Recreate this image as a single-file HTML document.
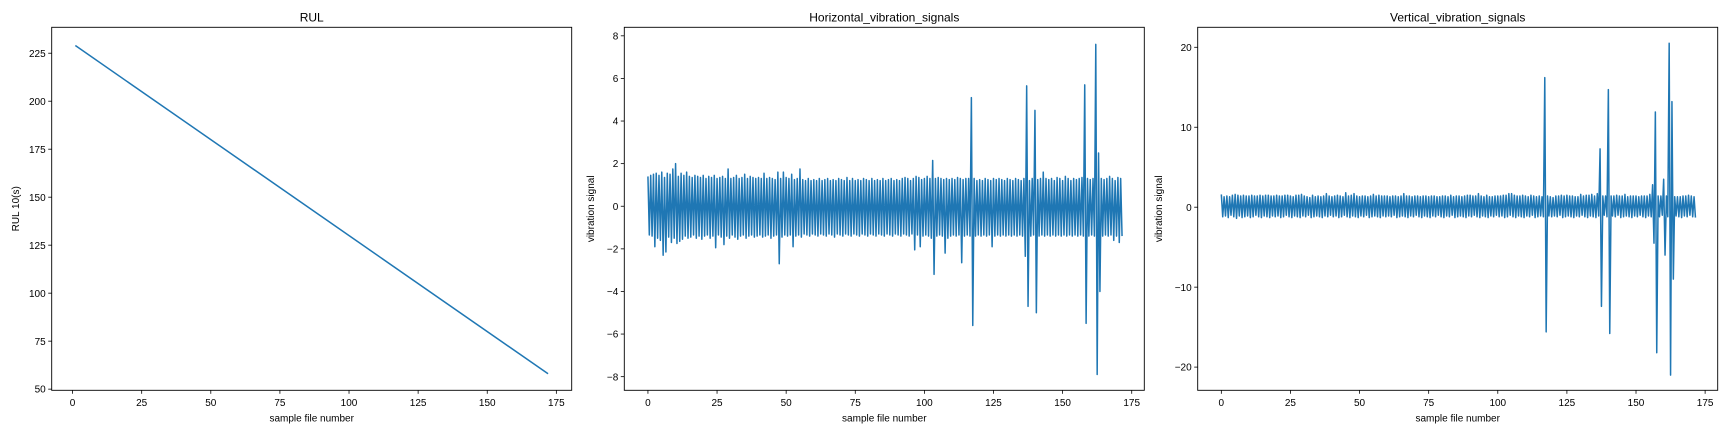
<!DOCTYPE html>
<html><head><meta charset="utf-8"><style>
html,body{margin:0;padding:0;background:#fff;width:1728px;height:432px;overflow:hidden}
svg{display:block;font-family:"Liberation Sans","DejaVu Sans",sans-serif}
</style></head><body>
<svg id="fig" width="1728" height="432" viewBox="0 0 1728 432" xmlns="http://www.w3.org/2000/svg"></svg>
<script>
const xTicks = [0,25,50,75,100,125,150,175];
const rulY0 = 229, rulY1 = 58, rulX0 = 1, rulX1 = 172;
const rulTicks = [50,75,100,125,150,175,200,225];
const hTicks = [-8,-6,-4,-2,0,2,4,6,8];
const vTicks = [-20,-10,0,10,20];
const hMax = [1.4,1.45,1.5,1.55,1.45,1.6,1.35,1.55,1.5,1.75,2.0,1.4,1.55,1.45,1.6,1.4,1.35,1.45,1.4,1.35,
1.45,1.3,1.4,1.35,1.45,1.3,1.35,1.4,1.3,1.75,1.3,1.35,1.45,1.3,1.35,1.5,1.3,1.4,1.35,1.3,
1.35,1.3,1.55,1.3,1.35,1.3,1.25,1.6,1.3,1.6,1.35,1.3,1.5,1.25,1.3,1.75,1.25,1.2,1.3,1.2,
1.25,1.2,1.3,1.2,1.25,1.3,1.2,1.25,1.2,1.3,1.25,1.2,1.35,1.2,1.3,1.2,1.25,1.2,1.3,1.25,
1.2,1.3,1.2,1.25,1.2,1.3,1.2,1.25,1.3,1.2,1.25,1.2,1.3,1.35,1.3,1.2,1.3,1.4,1.35,1.25,
1.3,1.4,1.3,2.15,1.3,1.35,1.3,1.25,1.3,1.25,1.3,1.25,1.35,1.3,1.25,1.3,1.3,5.1,1.3,1.2,
1.25,1.2,1.3,1.25,1.2,1.3,1.25,1.3,1.25,1.2,1.3,1.25,1.2,1.3,1.25,1.2,1.3,5.65,1.2,1.3,
4.5,1.25,1.3,1.6,1.3,1.25,1.3,1.2,1.35,1.3,1.2,1.4,1.3,1.2,1.3,1.25,1.3,1.35,5.7,1.3,
1.25,1.3,7.6,2.5,1.3,1.25,1.3,1.4,1.3,1.2,1.35,1.3];
const hMin = [-1.35,-1.4,-1.9,-1.5,-1.6,-2.3,-2.15,-1.45,-1.7,-1.5,-1.75,-1.65,-1.55,-1.4,-1.5,-1.45,-1.35,-1.5,-1.4,-1.55,
-1.4,-1.35,-1.5,-1.4,-1.95,-1.35,-1.45,-1.8,-1.4,-1.5,-1.35,-1.45,-1.55,-1.4,-1.35,-1.5,-1.4,-1.35,-1.45,-1.4,
-1.35,-1.45,-1.4,-1.35,-1.5,-1.4,-1.35,-2.7,-1.45,-1.35,-1.4,-1.35,-1.9,-1.4,-1.35,-1.45,-1.3,-1.35,-1.4,-1.3,
-1.35,-1.4,-1.3,-1.35,-1.4,-1.3,-1.35,-1.45,-1.3,-1.35,-1.4,-1.3,-1.35,-1.4,-1.3,-1.35,-1.4,-1.3,-1.35,-1.4,
-1.3,-1.35,-1.4,-1.3,-1.35,-1.4,-1.3,-1.35,-1.4,-1.3,-1.35,-1.4,-1.3,-1.35,-1.4,-1.3,-2.05,-1.35,-1.9,-1.4,
-1.35,-1.4,-1.5,-3.2,-1.4,-1.35,-1.4,-2.2,-1.5,-1.4,-1.35,-1.4,-1.35,-2.65,-1.4,-1.35,-1.4,-5.6,-1.4,-1.35,
-1.4,-1.35,-1.4,-1.35,-1.9,-1.4,-1.35,-1.4,-1.35,-1.4,-1.35,-1.4,-1.35,-1.4,-1.35,-1.4,-2.35,-4.7,-1.4,-1.35,
-5.0,-1.4,-1.35,-1.4,-1.35,-1.4,-1.35,-1.4,-1.35,-1.4,-1.35,-1.4,-1.35,-1.4,-1.35,-1.4,-1.35,-1.4,-5.5,-1.4,
-1.35,-1.4,-7.9,-4.0,-1.4,-1.35,-1.4,-1.35,-1.6,-1.4,-1.7,-1.4];
const vMax = [1.6,1.3,1.4,1.3,1.5,1.6,1.5,1.4,1.5,1.4,1.4,1.5,1.4,1.4,1.5,1.4,1.5,1.5,1.4,1.4,
1.5,1.4,1.4,1.5,1.5,1.4,1.3,1.5,1.5,1.6,1.4,1.3,1.2,1.5,1.3,1.4,1.3,1.4,1.7,1.4,
1.3,1.4,1.5,1.4,1.3,1.8,1.4,1.5,1.7,1.4,1.3,1.4,1.4,1.3,1.4,1.6,1.4,1.5,1.4,1.4,
1.4,1.3,1.4,1.4,1.3,1.4,1.7,1.4,1.4,1.3,1.4,1.4,1.3,1.4,1.4,1.3,1.4,1.4,1.3,1.3,
1.4,1.4,1.3,1.5,1.3,1.4,1.4,1.3,1.4,1.5,1.5,1.4,1.4,1.7,1.4,1.3,1.5,1.3,1.3,1.4,
1.4,1.4,1.5,1.5,1.7,1.7,1.5,1.4,1.4,1.5,1.4,1.3,1.5,1.4,1.3,1.4,1.3,16.2,1.4,1.3,
1.2,1.4,1.4,1.5,1.4,1.5,1.4,1.4,1.3,1.3,1.6,1.4,1.5,1.5,1.6,1.4,1.7,7.3,1.4,1.4,
14.7,1.4,1.4,1.5,1.4,1.4,1.6,1.3,1.4,1.4,1.4,1.3,1.4,1.4,1.4,1.6,2.8,11.9,1.4,1.4,
3.5,1.4,20.5,13.2,1.3,1.3,1.3,1.4,1.4,1.5,1.4,1.3];
const vMin = [-1.2,-1.1,-1.3,-1.0,-1.2,-1.4,-1.1,-1.3,-1.2,-1.1,-1.3,-1.2,-1.0,-1.2,-1.3,-1.1,-1.2,-1.3,-1.1,-1.2,
-1.1,-1.3,-1.2,-1.0,-1.2,-1.3,-1.1,-1.2,-1.3,-1.1,-1.2,-1.0,-1.3,-1.2,-1.1,-1.2,-1.3,-1.1,-1.2,-1.0,
-1.2,-1.1,-1.3,-1.2,-1.0,-1.2,-1.3,-1.1,-1.2,-1.3,-1.1,-1.2,-1.0,-1.3,-1.2,-1.1,-1.2,-1.3,-1.1,-1.2,
-1.1,-1.2,-1.0,-1.3,-1.2,-1.1,-1.2,-1.3,-1.1,-1.2,-1.0,-1.2,-1.3,-1.1,-1.2,-1.3,-1.1,-1.2,-1.0,-1.2,
-1.3,-1.1,-1.2,-1.0,-1.3,-1.2,-1.1,-1.2,-1.3,-1.1,-1.2,-1.0,-1.2,-1.3,-1.1,-1.2,-1.3,-1.1,-1.2,-1.0,
-1.2,-1.1,-1.3,-1.2,-1.0,-1.2,-1.3,-1.1,-1.2,-1.3,-1.1,-1.2,-1.0,-1.3,-1.2,-1.1,-1.2,-15.6,-1.1,-1.2,
-1.1,-1.2,-1.0,-1.3,-1.2,-1.1,-1.2,-1.3,-1.1,-1.2,-1.0,-1.2,-1.3,-1.1,-1.2,-1.3,-1.1,-12.4,-1.0,-1.2,
-15.8,-1.1,-1.2,-1.0,-1.3,-1.2,-1.1,-1.2,-1.3,-1.1,-1.2,-1.0,-1.2,-1.3,-1.1,-1.2,-4.5,-18.2,-1.2,-1.0,
-6.0,-1.2,-21.0,-9.0,-1.1,-1.2,-1.3,-1.1,-1.2,-1.0,-1.2,-1.3];

const NS = "http://www.w3.org/2000/svg";
const svg = document.getElementById('fig');
const TOP = 27.3, BOT = 390.3, W = 520;
function mk(tag, attrs, parent){const e=document.createElementNS(NS,tag);for(const k in attrs)e.setAttribute(k,attrs[k]);(parent||svg).appendChild(e);return e;}
function txt(s, attrs, parent){const e=mk('text',attrs,parent);e.textContent=s;return e;}
function fmt(v){return v<0?'\u2212'+(-v):''+v;}

function panel(cfg){
  const g = mk('g',{});
  
  
  const L = cfg.left, R = L + W;
  const sx = v => L + (v - cfg.xmin) / (cfg.xmax - cfg.xmin) * W;
  const sy = v => BOT - (v - cfg.ymin) / (cfg.ymax - cfg.ymin) * (BOT - TOP);
  // series
  let d = '';
  cfg.points(function(x,y,i){ d += (i===0?'M':'L') + sx(x).toFixed(2) + ' ' + sy(y).toFixed(2); });
  const p = mk('path',{d:d,fill:'none',stroke:'#1f77b4','stroke-width':1.5,'stroke-linejoin':'round'},g);
  
  
  // frame
  const fr = mk('rect',{x:L,y:TOP,width:W,height:BOT-TOP,fill:'none',stroke:'#000','stroke-width':0.9},g);
  
  
  // x ticks
  xTicks.forEach(t=>{
    const x = sx(t);
    mk('line',{x1:x,x2:x,y1:BOT,y2:BOT+3.5,stroke:'#000','stroke-width':0.8},g);
    const e = txt(fmt(t),{x:x,y:BOT+15.5,'font-size':10,'text-anchor':'middle',fill:'#000'},g);
    
    
  });
  cfg.yTicks.forEach(t=>{
    const y = sy(t);
    mk('line',{x1:L-3.5,x2:L,y1:y,y2:y,stroke:'#000','stroke-width':0.8},g);
    const e = txt(fmt(t),{x:L-6,y:y+3.6,'font-size':10,'text-anchor':'end',fill:'#000'},g);
    
    
  });
  const t = txt(cfg.title,{x:L+W/2,y:TOP-6,'font-size':12,'text-anchor':'middle',fill:'#000'},g);
  
  
  const xl = txt('sample file number',{x:L+W/2,y:BOT+31,'font-size':10,'text-anchor':'middle',fill:'#000'},g);
  
  
  const cy = (TOP+BOT)/2;
  const yl = txt(cfg.ylabel,{x:cfg.ylx,y:cy,'font-size':10,'text-anchor':'middle',fill:'#000',transform:'rotate(-90 '+cfg.ylx+' '+cy+')'},g);
  
  
}

function zigzag(maxA, minA){
  return function(cb){
    let k = 0;
    for(let i=0;i<maxA.length;i++){
      cb(i, maxA[i], k++);
      cb(i+0.5, minA[i], k++);
    }
  };
}

panel({name:'rul-panel', title:'RUL', ylabel:'RUL 10(s)', left:51.7, ylx:19,
  xmin:-7.55, xmax:180.55, ymin:49.4, ymax:238.5, yTicks:rulTicks,
  points:function(cb){cb(rulX0,rulY0,0);cb(rulX1,rulY1,1);}});
panel({name:'horizontal-panel', title:'Horizontal_vibration_signals', ylabel:'vibration signal', left:624.3, ylx:594,
  xmin:-8.55, xmax:179.55, ymin:-8.64, ymax:8.4, yTicks:hTicks,
  points:zigzag(hMax,hMin)});
panel({name:'vertical-panel', title:'Vertical_vibration_signals', ylabel:'vibration signal', left:1197.7, ylx:1162,
  xmin:-8.55, xmax:179.55, ymin:-22.9, ymax:22.5, yTicks:vTicks,
  points:zigzag(vMax,vMin)});
</script>
</body></html>
